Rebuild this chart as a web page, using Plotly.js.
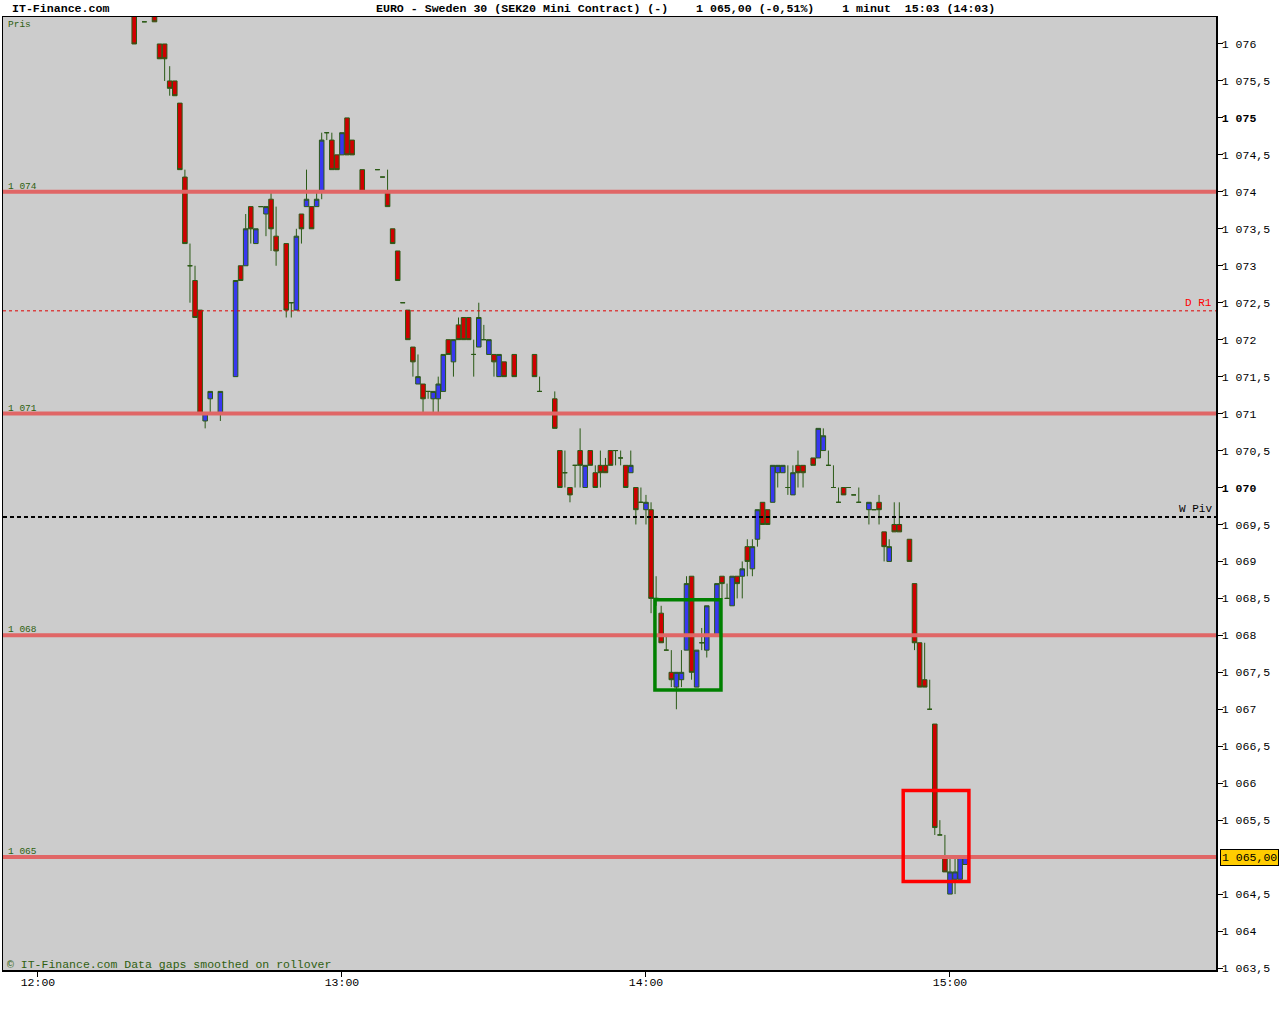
<!DOCTYPE html>
<html>
<head>
<meta charset="utf-8">
<script src="https://cdn.plot.ly/plotly-3.0.1.min.js"></script>
<style>html,body{margin:0;padding:0;background:#fff;}#chart{width:1280px;height:1024px;}</style>
</head>
<body>
<div id="chart"></div>
<script>
// ---- data (1-minute candles) ----
const day = "2024-01-01 ";
const times = [
 "12:19","12:21","12:23","12:24","12:25","12:26","12:27","12:28","12:29","12:30","12:31","12:32","12:33","12:34",
 "12:36","12:39","12:40","12:41","12:42","12:43","12:44","12:45","12:46","12:47",
 "12:49","12:50","12:51","12:52","12:53","12:54","12:55","12:56","12:57","12:58",
 "12:59","13:00","13:01","13:02","13:04","13:07","13:08","13:09","13:10","13:11",
 "13:12","13:13","13:14","13:15","13:16","13:17","13:18","13:19","13:20","13:21",
 "13:22","13:23","13:24","13:25","13:26","13:27","13:28","13:29","13:30","13:31",
 "13:32","13:34","13:38","13:39","13:42","13:43","13:44","13:45","13:46","13:47",
 "13:48","13:49","13:50","13:51","13:52","13:53","13:54","13:55","13:56","13:57",
 "13:58","13:59","14:00","14:01","14:02","14:03","14:04","14:05","14:06","14:07",
 "14:08","14:09","14:10","14:11","14:12","14:14","14:15","14:16","14:17","14:18",
 "14:19","14:20","14:21","14:22","14:23","14:24","14:25","14:26","14:27","14:28",
 "14:29","14:30","14:31","14:33","14:34","14:35","14:36","14:37","14:38","14:39",
 "14:40","14:41","14:42","14:44","14:45","14:46","14:47","14:48","14:49","14:50",
 "14:52","14:53","14:54","14:55","14:56","14:57","14:58","14:59","15:00","15:01","15:02","15:03"
];
const openP = [
 1076.6,1076.3,1076.4,1076.0,1076.0,1075.5,1075.5,1075.2,1074.2,1073.0,1072.8,1072.4,1070.9,1071.2,
 1071.0,1071.5,1073.0,1073.0,1073.8,1073.3,1073.8,1073.7,1073.9,1073.4,
 1073.3,1072.5,1072.4,1073.7,1073.8,1073.8,1073.8,1074.0,1074.8,1074.7,
 1074.5,1074.5,1075.0,1074.7,1074.3,1074.3,1074.2,1074.0,1073.5,1073.2,
 1072.5,1072.4,1071.9,1071.4,1071.4,1071.3,1071.2,1071.2,1071.3,1072.0,
 1071.7,1072.2,1072.3,1072.3,1071.8,1071.9,1072.0,1071.8,1071.8,1071.5,
 1071.7,1071.8,1071.8,1071.3,1071.2,1070.5,1070.2,1070.0,1070.3,1070.5,
 1070.0,1070.5,1070.2,1070.3,1070.3,1070.5,1070.5,1070.4,1070.3,1070.2,
 1070.0,1069.8,1069.7,1069.7,1068.5,1068.3,1067.8,1067.5,1067.3,1067.4,
 1067.8,1068.8,1067.3,1067.9,1067.8,1068.0,1068.8,1068.5,1068.4,1068.8,
 1068.8,1069.2,1068.9,1069.3,1069.8,1069.7,1069.8,1070.2,1070.2,1070.0,
 1069.9,1070.3,1070.3,1070.4,1070.4,1070.5,1070.3,1070.0,1069.8,1070.0,
 1070.0,1069.9,1069.8,1069.7,1069.7,1069.8,1069.4,1069.0,1069.5,1069.5,
 1069.3,1068.7,1067.9,1067.4,1067.0,1066.8,1065.3,1065.0,1064.5,1064.7,1064.7,1064.9
];
const highP = [
 1076.6,1076.3,1076.4,1076.0,1076.0,1075.7,1075.5,1075.2,1074.3,1073.3,1073.0,1072.4,1071.0,1071.3,
 1071.3,1072.8,1073.0,1073.7,1073.8,1073.5,1073.8,1073.8,1074.0,1073.8,
 1073.3,1072.5,1073.5,1073.7,1074.3,1073.8,1074.0,1074.8,1074.8,1074.8,
 1074.5,1074.8,1075.0,1074.7,1074.3,1074.3,1074.2,1074.3,1073.5,1073.2,
 1072.5,1072.4,1071.9,1071.8,1071.4,1071.3,1071.3,1071.5,1071.8,1072.0,
 1072.0,1072.3,1072.3,1072.3,1072.0,1072.5,1072.2,1072.0,1071.8,1071.8,
 1071.7,1071.8,1071.8,1071.5,1071.3,1070.5,1070.5,1070.0,1070.3,1070.8,
 1070.3,1070.5,1070.3,1070.5,1070.4,1070.5,1070.5,1070.5,1070.3,1070.5,
 1070.0,1070.0,1069.9,1069.8,1068.8,1068.4,1068.0,1067.8,1067.5,1067.8,
 1068.8,1068.8,1067.8,1068.1,1068.4,1068.7,1068.8,1068.7,1068.8,1068.8,
 1069.0,1069.3,1069.3,1069.7,1069.8,1069.7,1070.3,1070.3,1070.3,1070.3,
 1070.3,1070.5,1070.3,1070.4,1070.8,1070.8,1070.5,1070.3,1070.0,1070.0,
 1070.0,1069.9,1070.0,1069.8,1069.7,1069.9,1069.4,1069.3,1069.8,1069.8,
 1069.3,1068.7,1067.9,1067.9,1067.4,1066.8,1065.5,1065.3,1065.0,1065.0,1065.0,1065.0
];
const lowP = [
 1076.0,1076.3,1076.3,1075.8,1075.5,1075.3,1075.3,1074.3,1073.3,1072.5,1072.3,1071.0,1070.8,1071.0,
 1070.9,1071.5,1072.8,1073.0,1073.3,1073.3,1073.8,1073.4,1073.2,1073.0,
 1072.3,1072.3,1072.4,1073.3,1073.8,1073.5,1073.8,1073.9,1074.7,1074.3,
 1074.3,1074.5,1074.5,1074.5,1074.0,1074.3,1074.2,1073.8,1073.3,1072.8,
 1072.5,1072.0,1071.5,1071.4,1071.0,1071.2,1071.0,1071.0,1071.3,1071.8,
 1071.5,1072.0,1072.0,1072.0,1071.5,1071.9,1072.0,1071.8,1071.5,1071.5,
 1071.5,1071.5,1071.5,1071.3,1070.8,1070.0,1070.0,1069.8,1070.0,1070.0,
 1070.0,1070.3,1070.0,1070.0,1070.2,1070.3,1070.3,1070.3,1070.0,1070.2,
 1069.5,1069.8,1069.5,1068.3,1068.4,1067.9,1067.8,1067.3,1067.0,1067.3,
 1067.8,1067.4,1067.3,1067.8,1067.7,1068.0,1068.5,1068.5,1068.4,1068.5,
 1068.5,1068.8,1068.8,1069.2,1069.5,1069.5,1069.8,1070.0,1070.2,1069.9,
 1069.9,1070.0,1070.0,1070.3,1070.4,1070.5,1070.3,1070.0,1069.8,1069.9,
 1070.0,1069.9,1069.8,1069.5,1069.7,1069.5,1069.0,1069.0,1069.4,1069.4,
 1069.0,1067.8,1067.3,1067.3,1067.0,1065.3,1065.3,1064.8,1064.5,1064.5,1064.7,1064.9
];
const closeP = [
 1076.0,1076.3,1076.3,1075.8,1075.8,1075.4,1075.3,1074.3,1073.3,1073.0,1072.3,1071.0,1071.0,1071.3,
 1071.3,1072.8,1072.8,1073.5,1073.5,1073.5,1073.8,1073.8,1073.5,1073.2,
 1072.4,1072.5,1073.4,1073.5,1073.9,1073.5,1073.9,1074.7,1074.8,1074.3,
 1074.3,1074.8,1074.5,1074.5,1074.0,1074.3,1074.2,1073.8,1073.3,1072.8,
 1072.5,1072.0,1071.7,1071.5,1071.2,1071.3,1071.3,1071.4,1071.8,1071.8,
 1072.0,1072.0,1072.0,1072.0,1071.8,1072.3,1072.0,1072.0,1071.7,1071.8,
 1071.5,1071.5,1071.5,1071.3,1070.8,1070.0,1070.2,1069.9,1070.3,1070.3,
 1070.3,1070.3,1070.0,1070.2,1070.2,1070.3,1070.5,1070.4,1070.0,1070.3,
 1069.7,1069.8,1069.8,1068.5,1068.5,1067.9,1067.8,1067.4,1067.5,1067.5,
 1068.7,1067.5,1067.8,1067.9,1068.4,1068.7,1068.7,1068.5,1068.8,1068.7,
 1068.9,1069.0,1069.2,1069.7,1069.5,1069.5,1070.3,1070.3,1070.3,1070.0,
 1070.2,1070.2,1070.2,1070.3,1070.8,1070.7,1070.3,1070.0,1069.8,1069.9,
 1070.0,1069.9,1069.8,1069.8,1069.7,1069.7,1069.2,1069.2,1069.4,1069.4,
 1069.0,1067.9,1067.3,1067.3,1067.0,1065.4,1065.3,1064.8,1064.8,1064.8,1065.0,1065.0
];

// support / resistance levels
const levels = [1074, 1071, 1068, 1065];
const levelLabels = ["1 074", "1 071", "1 068", "1 065"];
const dailyR1 = 1072.39;
const weeklyPivot = 1069.60;
const lastPrice = 1065.00;
const lastPriceLabel = "1 065,00";

// highlight boxes [timeStart, timeEnd, priceLow, priceHigh]
const greenBox = ["14:01:46", "14:14:48", 1067.26, 1068.48];
const redBox = ["14:50:46", "15:03:44", 1064.67, 1065.90];

// axis ticks
const yTickVals = [1063.5,1064,1064.5,1065.5,1066,1066.5,1067,1067.5,1068,1068.5,1069,1069.5,1070,1070.5,1071,1071.5,1072,1072.5,1073,1073.5,1074,1074.5,1075,1075.5,1076];
const yTickText = ["1 063,5","1 064","1 064,5","1 065,5","1 066","1 066,5","1 067","1 067,5","1 068","1 068,5","1 069","1 069,5","<b>1 070</b>","1 070,5","1 071","1 071,5","1 072","1 072,5","1 073","1 073,5","1 074","1 074,5","<b>1 075</b>","1 075,5","1 076"];
const xTickTimes = ["12:00","13:00","14:00","15:00"];
const xRange = ["11:53:06", "15:52:30"];
const yRange = [1063.473, 1076.365];

// ---- chart ----
const MONO = "Liberation Mono, DejaVu Sans Mono, monospace";
const NB = "\u00a0";
const titleText = "EURO - Sweden 30 (SEK20 Mini Contract) (-)" + NB.repeat(4) +
  "1 065,00 (-0,51%)" + NB.repeat(4) + "1 minut" + NB.repeat(2) + "15:03 (14:03)";

const trace = {
  type: "candlestick",
  x: times.map(t => day + t),
  open: openP, high: highP, low: lowP, close: closeP,
  increasing: {fillcolor: "#3838f0", line: {color: "#2b5a16", width: 1}},
  decreasing: {fillcolor: "#d00000", line: {color: "#2b5a16", width: 1}},
  whiskerwidth: 0,
  hoverinfo: "skip",
  showlegend: false
};

const shapes = [];
levels.forEach(v => shapes.push({type: "line", xref: "paper", x0: 0, x1: 1, yref: "y", y0: v, y1: v,
  line: {color: "#e06666", width: 4}, layer: "above"}));
shapes.push({type: "line", xref: "paper", x0: 0, x1: 1, yref: "y", y0: dailyR1, y1: dailyR1,
  line: {color: "#e00000", width: 1, dash: "3px,3px"}, layer: "above"});
shapes.push({type: "line", xref: "paper", x0: 0, x1: 1, yref: "y", y0: weeklyPivot, y1: weeklyPivot,
  line: {color: "#000000", width: 2, dash: "4px,3px"}, layer: "above"});
shapes.push({type: "rect", xref: "x", yref: "y", x0: day + greenBox[0], x1: day + greenBox[1], y0: greenBox[2], y1: greenBox[3],
  line: {color: "#008000", width: 3.5}, fillcolor: "rgba(0,0,0,0)", layer: "above"});
shapes.push({type: "rect", xref: "x", yref: "y", x0: day + redBox[0], x1: day + redBox[1], y0: redBox[2], y1: redBox[3],
  line: {color: "#ff0000", width: 3.5}, fillcolor: "rgba(0,0,0,0)", layer: "above"});

const annotations = [];
levels.forEach((v, i) => annotations.push({xref: "paper", yref: "y", x: 0.0025, y: v, xanchor: "left", yanchor: "bottom",
  yshift: -2, text: levelLabels[i], showarrow: false, font: {family: MONO, size: 9.5, color: "#2f6010"}}));
annotations.push({xref: "paper", yref: "y", x: 0.9985, y: dailyR1, xanchor: "right", yanchor: "bottom", yshift: 0,
  text: "D R1", showarrow: false, font: {family: MONO, size: 11, color: "#ff0000"}});
annotations.push({xref: "paper", yref: "y", x: 0.9985, y: weeklyPivot, xanchor: "right", yanchor: "bottom", yshift: 0,
  text: "W Piv", showarrow: false, font: {family: MONO, size: 11, color: "#000000"}});
annotations.push({xref: "paper", yref: "y", x: 1.0035, y: lastPrice, xanchor: "left", yanchor: "middle",
  text: lastPriceLabel, showarrow: false, bgcolor: "#ffcc00", bordercolor: "#000", borderwidth: 1, borderpad: 1,
  font: {family: MONO, size: 11.5, color: "#000"}});
annotations.push({xref: "paper", yref: "paper", x: 0.0025, y: 1, xanchor: "left", yanchor: "top",
  text: "Pris", showarrow: false, font: {family: MONO, size: 9.5, color: "#2f6010"}});
annotations.push({xref: "paper", yref: "paper", x: 0.002, y: 0, xanchor: "left", yanchor: "bottom", yshift: -3,
  text: "\u00a9 IT-Finance.com Data gaps smoothed on rollover", showarrow: false,
  font: {family: MONO, size: 11.5, color: "#2f6010"}});
annotations.push({xref: "paper", yref: "paper", x: 0.0058, y: 1.0094, xanchor: "left", yanchor: "middle",
  text: "<b>IT-Finance.com</b>", showarrow: false, font: {family: MONO, size: 11.6, color: "#000"}});

const layout = {
  width: 1280, height: 1024,
  margin: {l: 3, r: 64, t: 17, b: 54, autoexpand: false},
  paper_bgcolor: "#ffffff",
  plot_bgcolor: "#cccccc",
  showlegend: false,
  boxgap: 0.1, boxgroupgap: 0,
  title: {text: "<b>" + titleText + "</b>", xref: "container", yref: "container",
    x: 376 / 1280, xanchor: "left", y: 1 - 8 / 1024, yanchor: "middle",
    font: {family: MONO, size: 11.6, color: "#000"}},
  xaxis: {
    type: "date",
    range: xRange.map(t => day + t),
    rangeslider: {visible: false},
    showgrid: false, zeroline: false,
    showline: true, mirror: true, linecolor: "#000", linewidth: 1.5,
    ticks: "outside", ticklen: 5, tickcolor: "#000", tickwidth: 1,
    ticklabelstandoff: -4,
    tickvals: xTickTimes.map(t => day + t), ticktext: xTickTimes,
    tickfont: {family: MONO, size: 11.5, color: "#000"}
  },
  yaxis: {
    side: "right",
    range: yRange,
    showgrid: false, zeroline: false,
    showline: true, mirror: true, linecolor: "#000", linewidth: 1.5,
    ticks: "outside", ticklen: 5, tickcolor: "#000", tickwidth: 1,
    ticklabelstandoff: -3,
    tickvals: yTickVals, ticktext: yTickText,
    tickfont: {family: MONO, size: 11.5, color: "#000"}
  },
  shapes: shapes,
  annotations: annotations
};

Plotly.newPlot("chart", [trace], layout, {displayModeBar: false, staticPlot: true});
</script>
</body>
</html>
